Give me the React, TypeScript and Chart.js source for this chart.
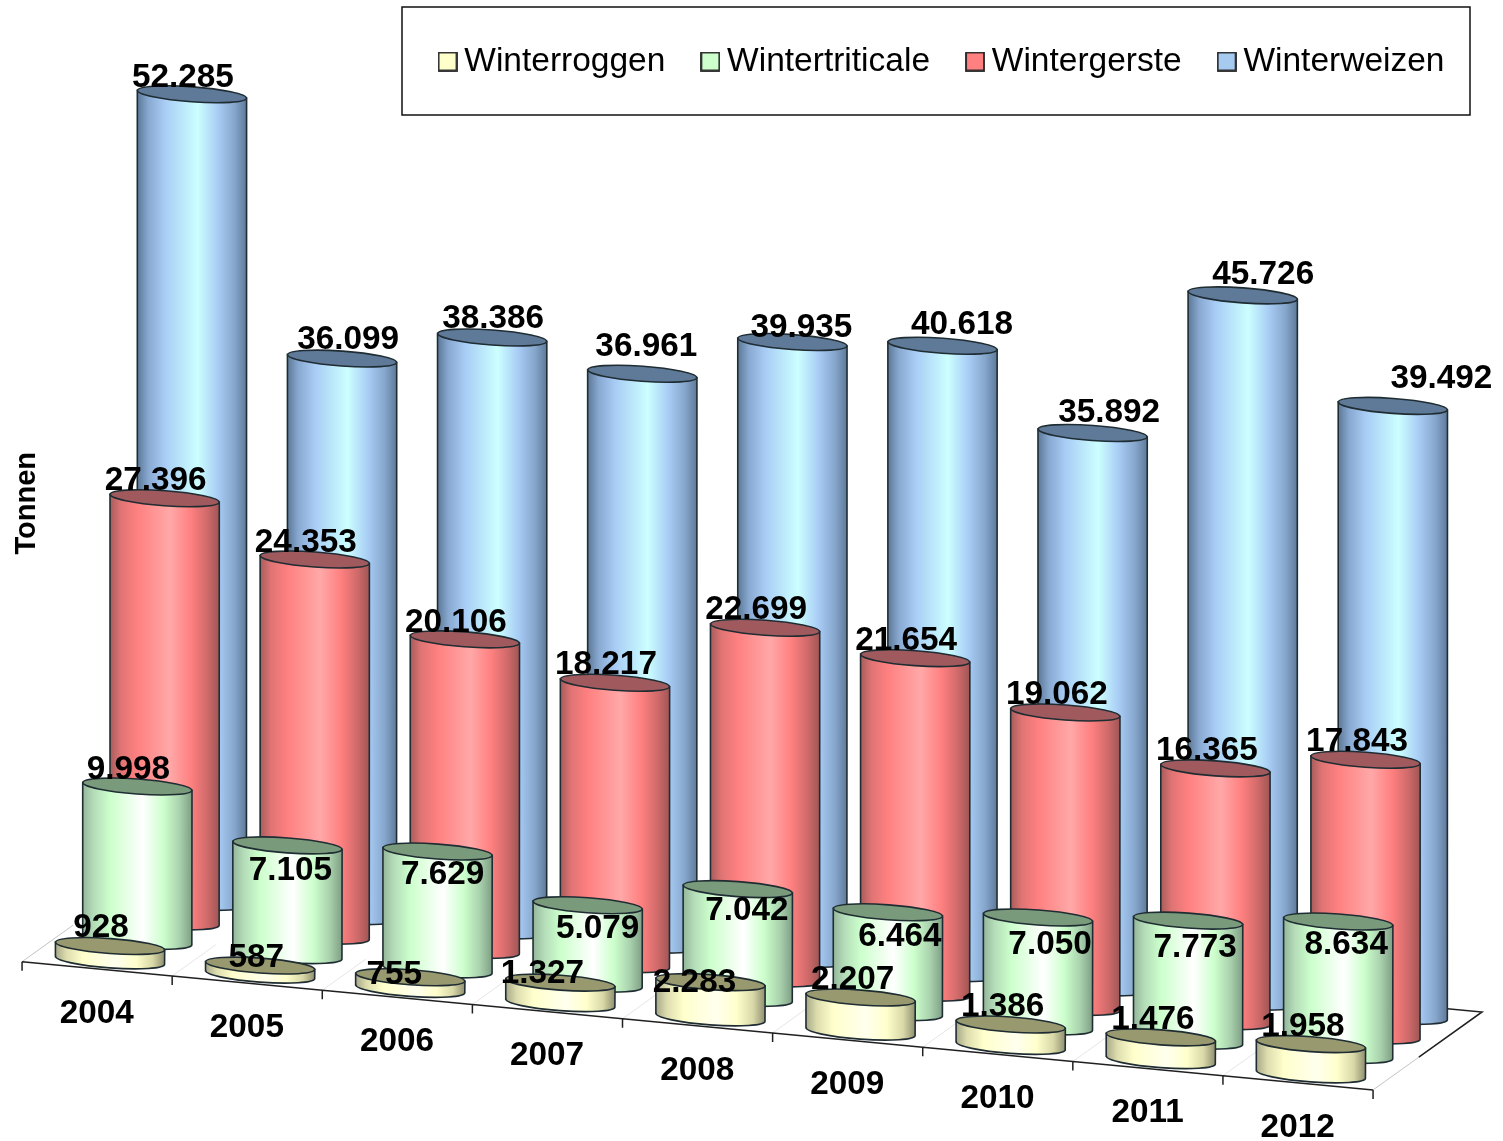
import React, { useEffect, useRef } from "react";
import { Chart, registerables } from "chart.js";

Chart.register(...registerables);

const FONT = '"Liberation Sans", Arial, sans-serif';

const years = ["2004", "2005", "2006", "2007", "2008", "2009", "2010", "2011", "2012"];
const winterroggen = [928, 587, 755, 1327, 2283, 2207, 1386, 1476, 1958];
const wintertriticale = [9998, 7105, 7629, 5079, 7042, 6464, 7050, 7773, 8634];
const wintergerste = [27396, 24353, 20106, 18217, 22699, 21654, 19062, 16365, 17843];
const winterweizen = [52285, 36099, 38386, 36961, 39935, 40618, 35892, 45726, 39492];

const seriesNames = ["Winterroggen", "Wintertriticale", "Wintergerste", "Winterweizen"];
const seriesValues = [winterroggen, wintertriticale, wintergerste, winterweizen];

// [edge left, shade, base, peak, base, shade, edge right], top-cap
const shades = [
  { base: "#ffffcc", cap: "#99996f", stops: ["#a8a888", "#dcdcae", "#ffffcc", "#ffffee", "#ffffcc", "#d8d8a8", "#8f8f70"] },
  { base: "#ccffcc", cap: "#7a9a7c", stops: ["#94b69a", "#b4dcb8", "#ccffcc", "#ffffff", "#ccffcc", "#a8d0ac", "#7e9e84"] },
  { base: "#ff8080", cap: "#a05a5e", stops: ["#a85c5c", "#e07474", "#ff8080", "#ffa8a8", "#ff8080", "#d06a6a", "#a05555"] },
  { base: "#a6caf0", cap: "#5f7a99", stops: ["#5c7897", "#88a8d0", "#a8ccf5", "#ccffff", "#a8ccf5", "#86a6cc", "#5e7a9a"] },
];
const stopAt = [0, 0.1, 0.25, 0.55, 0.74, 0.89, 1];

// Oblique projection of the 3D view: how far a category / series step moves on the page
const DEPTH_X = 27.3;
const DEPTH_Y = -19.5;
const SLOPE_PER_CATEGORY = 14.25;
const CAP_RY = 7.5;
const CAP_TILT = 0.0727;

// Hand placement of the value labels, relative to the cylinder's top
const labelNudge = [
  [[-9, -18], [-4, -8], [-16, -2], [-18, -9], [-16, 1], [-8, -18], [-8, -18], [-8, -18], [-8, -17]],
  [[-9, -17], [3, 25], [5, 23], [10, 24], [9, 22], [12, 25], [12, 27], [7, 27], [8, 23]],
  [[-9, -17], [-9, -17], [-9, -17], [-9, -17.5], [-9, -17.5], [-9, -17.5], [-8.5, -17.5], [-8.5, -17.5], [-8.5, -17.5]],
  [[-9, -16.3], [6, -19], [1, -19], [4, -27], [9, -14], [19.5, -21], [16.5, -20], [20.5, -21], [48.5, -27]],
];

const formatDe = (v: number) => v.toLocaleString("de-DE");

function projected(bar: any, s: number, c: number) {
  const dy = DEPTH_Y * s + SLOPE_PER_CATEGORY * c;
  return { x: bar.x + DEPTH_X * s, top: bar.y + dy, base: bar.base + dy, rx: bar.width / 2 };
}

function drawCylinder(ctx: CanvasRenderingContext2D, p: any, s: number) {
  const { x, top, base, rx } = p;
  const lift = rx * Math.sin(CAP_TILT);
  const g = ctx.createLinearGradient(x - rx, 0, x + rx, 0);
  shades[s].stops.forEach((col, i) => g.addColorStop(stopAt[i], col));
  ctx.save();
  ctx.lineWidth = 1.6;
  ctx.strokeStyle = "#1f2d33";
  ctx.beginPath();
  ctx.moveTo(x - rx, top - lift);
  ctx.lineTo(x - rx, base - lift);
  ctx.ellipse(x, base, rx, CAP_RY, CAP_TILT, Math.PI, 0, true);
  ctx.lineTo(x + rx, top + lift);
  ctx.closePath();
  ctx.fillStyle = g;
  ctx.fill();
  ctx.stroke();
  ctx.beginPath();
  ctx.ellipse(x, top, rx, CAP_RY, CAP_TILT, 0, Math.PI * 2);
  ctx.fillStyle = shades[s].cap;
  ctx.fill();
  ctx.stroke();
  ctx.restore();
}

const cylinderPlugin = {
  id: "cylinders",
  beforeDraw(chart: any) {
    const { ctx, width, height } = chart;
    ctx.save();
    ctx.fillStyle = "#ffffff";
    ctx.fillRect(0, 0, width, height);
    ctx.restore();
  },
  afterLayout(chart: any) {
    const l = chart.legend;
    l.left = 402.5;
    l.right = 1503;
    l.top = -0.25;
    l.bottom = 118;
  },
  beforeDatasetsDraw(chart: any) {
    const { ctx } = chart;
    const xs = chart.scales.x;
    const ys = chart.scales.y;
    const zero = ys.getPixelForValue(0);
    const ax = (c: number) => xs.getPixelForValue(c) - 88;
    const ay = (c: number) => zero + 1.3 + SLOPE_PER_CATEGORY * c;
    const n = years.length;
    const back = { dx: 109, dy: -78 };
    ctx.save();
    // faint floor grid running to the back
    ctx.strokeStyle = "#e6e6e6";
    ctx.lineWidth = 1;
    for (let c = 1; c < n; c++) {
      ctx.beginPath();
      ctx.moveTo(ax(c), ay(c));
      ctx.lineTo(ax(c) + back.dx * 0.4, ay(c) + back.dy * 0.4);
      ctx.stroke();
    }
    // left & near part of right floor edge (light)
    ctx.strokeStyle = "#c4c4c4";
    ctx.beginPath();
    ctx.moveTo(ax(0), ay(0));
    ctx.lineTo(ax(0) + back.dx * 0.47, ay(0) + back.dy * 0.47);
    ctx.moveTo(ax(n), ay(n));
    ctx.lineTo(ax(n) + back.dx * 0.42, ay(n) + back.dy * 0.42);
    ctx.stroke();
    // far part of right edge, back edge stub
    ctx.strokeStyle = "#202020";
    ctx.lineWidth = 1.5;
    ctx.beginPath();
    ctx.moveTo(ax(n) + back.dx * 0.42, ay(n) + back.dy * 0.42);
    ctx.lineTo(ax(n) + back.dx, ay(n) + back.dy);
    ctx.lineTo(ax(n) + back.dx - 40, ay(n) + back.dy - 3.8);
    ctx.stroke();
    // front edge and ticks
    ctx.beginPath();
    ctx.moveTo(ax(0), ay(0));
    ctx.lineTo(ax(n), ay(n));
    for (let c = 0; c <= n; c++) {
      ctx.moveTo(ax(c), ay(c));
      ctx.lineTo(ax(c), ay(c) + 9);
    }
    ctx.stroke();
    // category labels follow the slanted floor
    ctx.fillStyle = "#000000";
    ctx.font = `bold 33.3px ${FONT}`;
    ctx.textAlign = "center";
    ctx.textBaseline = "middle";
    years.forEach((y, c) => {
      ctx.fillText(y, xs.getPixelForValue(c) - 13.3, ay(c) + 51.7);
    });
    ctx.restore();
  },
  beforeDatasetDraw(chart: any, args: any) {
    const s = args.index;
    const meta = chart.getDatasetMeta(s);
    meta.data.forEach((bar: any, c: number) => {
      drawCylinder(chart.ctx, projected(bar, s, c), s);
    });
    return false;
  },
  afterDatasetsDraw(chart: any) {
    const { ctx } = chart;
    ctx.save();
    ctx.fillStyle = "#000000";
    ctx.font = `bold 33.3px ${FONT}`;
    ctx.textAlign = "center";
    ctx.textBaseline = "middle";
    for (let s = seriesValues.length - 1; s >= 0; s--) {
      chart.getDatasetMeta(s).data.forEach((bar: any, c: number) => {
        const p = projected(bar, s, c);
        const [nx, ny] = labelNudge[s][c];
        ctx.fillText(formatDe(seriesValues[s][c]), p.x + nx, p.top + ny);
      });
    }
    // legend frame
    ctx.strokeStyle = "#111111";
    ctx.lineWidth = 1.5;
    ctx.strokeRect(402, 7, 1068, 108);
    ctx.restore();
  },
};

function swatch(fill: string) {
  const c = document.createElement("canvas");
  c.width = 20;
  c.height = 20;
  const g = c.getContext("2d") as CanvasRenderingContext2D;
  g.fillStyle = fill;
  g.fillRect(1, 1, 18, 18);
  g.strokeStyle = "#222222";
  g.lineWidth = 1.8;
  g.strokeRect(1, 1, 18, 18);
  return c;
}

export default function App() {
  const ref = useRef<HTMLCanvasElement | null>(null);
  useEffect(() => {
    document.body.style.margin = "0";
    Chart.defaults.font.family = FONT;
    const chart = new Chart(ref.current as HTMLCanvasElement, {
      type: "bar",
      plugins: [cylinderPlugin],
      data: {
        labels: years,
        datasets: seriesNames.map((name, s) => ({
          label: name,
          data: seriesValues[s],
          backgroundColor: shades[s].base,
          grouped: false,
          barPercentage: 0.728,
          categoryPercentage: 1,
        })),
      },
      options: {
        animation: false,
        responsive: false,
        layout: { padding: { left: 0, right: 117, top: 45, bottom: 180.6 } },
        scales: {
          x: { display: false, offset: true, grid: { display: false } },
          y: {
            min: 0,
            max: 59200,
            grid: { display: false },
            border: { display: false },
            ticks: { display: false },
            title: {
              display: true,
              text: "Tonnen",
              color: "#000000",
              font: { size: 29, weight: "bold", family: FONT },
              padding: { top: 10, bottom: 0 },
            },
            afterFit: (scale: any) => {
              scale.width = 35;
            },
          },
        },
        plugins: {
          tooltip: { enabled: false },
          legend: {
            position: "top",
            align: "start",
            maxHeight: 1,
            labels: {
              color: "#000000",
              font: { size: 33.5, family: FONT },
              padding: 45,
              usePointStyle: true,
              pointStyleWidth: 0.01,
              generateLabels: () =>
                seriesNames.map((name, s) => ({
                  text: name,
                  datasetIndex: s,
                  hidden: false,
                  fillStyle: shades[s].base,
                  strokeStyle: "#222222",
                  pointStyle: swatch(shades[s].base),
                })),
            },
          },
        },
      },
    } as any);
    return () => chart.destroy();
  }, []);
  return <canvas ref={ref} width={1503} height={1141} style={{ display: "block" }} />;
}
